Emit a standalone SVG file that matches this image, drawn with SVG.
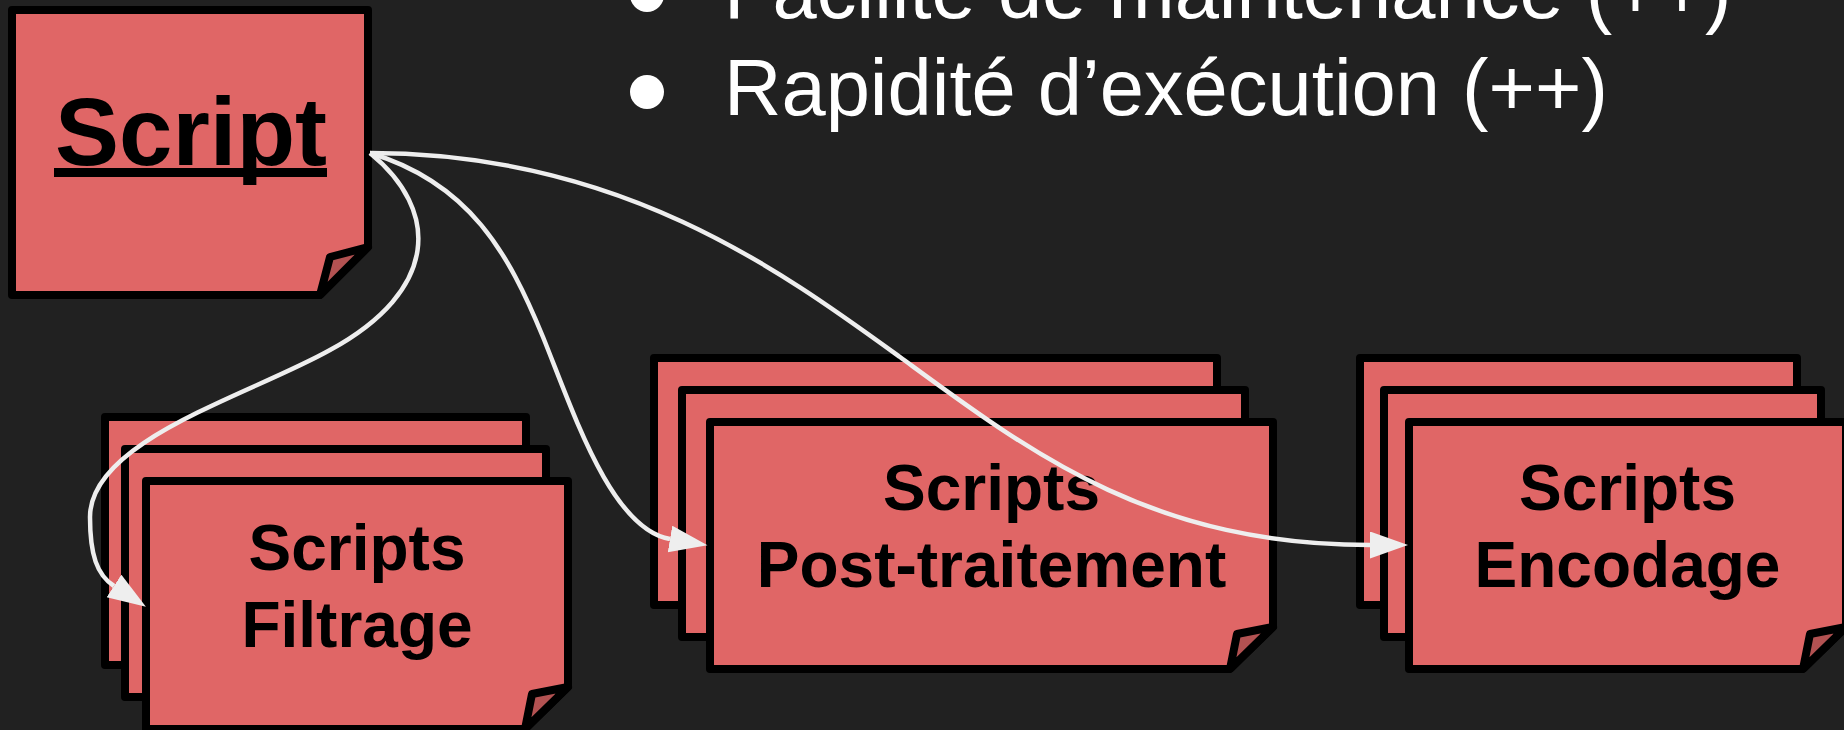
<svg xmlns="http://www.w3.org/2000/svg" width="1844" height="730" viewBox="0 0 1844 730">
  <style>
    .card { fill: #E06666; stroke: #000000; stroke-width: 8; stroke-linejoin: round; }
    .fold { fill: #B35252; stroke: #000000; stroke-width: 8; stroke-linejoin: round; }
    .label { font-family: "Liberation Sans", Arial, sans-serif; font-weight: bold; font-size: 64px; fill: #000000; text-anchor: middle; }
    .title { font-family: "Liberation Sans", Arial, sans-serif; font-weight: bold; font-size: 96px; fill: #000000; text-anchor: middle; }
    .bullet { font-family: "Liberation Sans", Arial, sans-serif; font-size: 79.5px; fill: #FFFFFF; }
    .link { fill: none; stroke: #EEEEEE; stroke-width: 4.5; }
  </style>
  <defs>
    <marker id="arrow" markerUnits="userSpaceOnUse" markerWidth="40" markerHeight="30" refX="0" refY="13.5" orient="auto">
      <path d="M0,0 L38,13.5 L0,27 Z" fill="#EEEEEE"/>
    </marker>
  </defs>

  <rect x="0" y="0" width="1844" height="730" fill="#212121"/>

  <!-- bullet list, top right -->
  <g id="bullets">
    <circle cx="647" cy="-5" r="17" fill="#FFFFFF"/>
    <text class="bullet" x="724" y="18">Facilité de maintenance (++)</text>
    <circle cx="647" cy="92" r="17" fill="#FFFFFF"/>
    <text class="bullet" x="724" y="115">Rapidité d’exécution (++)</text>
  </g>

  <!-- main script note -->
  <g id="script">
    <path class="card" d="M12,10 H368 V247 L320,295 H12 Z"/>
    <path class="fold" d="M368,247 L330,257 L320,295 Z"/>
    <text class="title" x="191" y="165">Script</text>
    <rect x="54" y="168" width="273" height="9" fill="#000000"/>
  </g>

  <!-- stack: filtering scripts -->
  <g id="filtrage">
    <path class="card" d="M105,417 H526 V622 L483,665 H105 Z"/>
    <path class="card" d="M125,449 H546 V654 L503,697 H125 Z"/>
    <path class="card" d="M146,481 H568 V687 L525,729 H146 Z"/>
    <path class="fold" d="M568,687 L532,694 L525,729 Z"/>
    <text class="label" x="357" y="570">Scripts</text>
    <text class="label" x="357" y="647">Filtrage</text>
  </g>

  <!-- stack: post-processing scripts -->
  <g id="post-traitement">
    <path class="card" d="M654,358 H1217 V563 L1174,605 H654 Z"/>
    <path class="card" d="M682,390 H1245 V595 L1202,637 H682 Z"/>
    <path class="card" d="M710,422 H1273 V627 L1230,669 H710 Z"/>
    <path class="fold" d="M1273,627 L1237,634 L1230,669 Z"/>
    <text class="label" x="991.5" y="510">Scripts</text>
    <text class="label" x="991.5" y="587">Post-traitement</text>
  </g>

  <!-- stack: encoding scripts -->
  <g id="encodage">
    <path class="card" d="M1360,358 H1797 V563 L1754,605 H1360 Z"/>
    <path class="card" d="M1384,390 H1821 V595 L1778,637 H1384 Z"/>
    <path class="card" d="M1409,422 H1846 V627 L1803,669 H1409 Z"/>
    <path class="fold" d="M1846,627 L1810,634 L1803,669 Z"/>
    <text class="label" x="1627.5" y="510">Scripts</text>
    <text class="label" x="1627.5" y="587">Encodage</text>
  </g>

  <!-- connectors from the main script -->
  <g id="connectors">
    <path class="link" marker-end="url(#arrow)" d="M370,153 C440,210 440,290 330,350 C250,395 90,440 90,517 C90,555 97,575 114,586"/>
    <path class="link" marker-end="url(#arrow)" d="M370,153 C470,183 509,254 543,337 C573,411 611,529 670,539"/>
    <path class="link" marker-end="url(#arrow)" d="M370,153 C620,153 780,270 900,357 C1030,452 1150,545 1370,545"/>
  </g>
</svg>
